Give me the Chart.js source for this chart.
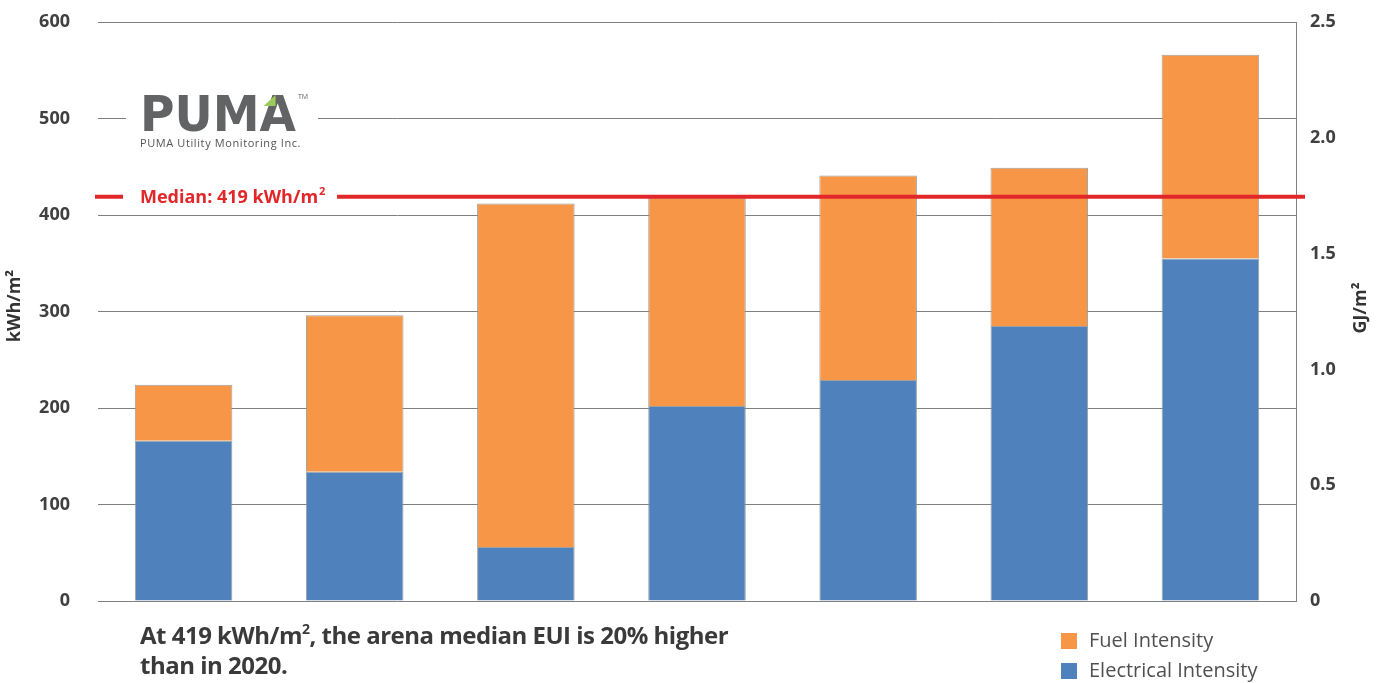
<!DOCTYPE html>
<html>
<head>
<meta charset="utf-8">
<script src="https://cdn.jsdelivr.net/npm/chart.js@4.4.1/dist/chart.umd.min.js"></script>
<style>
  html, body { margin: 0; padding: 0; background: #fff; }
  #wrap { position: relative; width: 1383px; height: 683px; overflow: hidden; }
  #eui { position: absolute; left: 0; top: 0; }
  .caption { position: absolute; left: 140px; top: 620px; font: bold 24px 'Open Sans', sans-serif; color: #3a3a3a; line-height: 30px; letter-spacing: -0.5px; }
  .caption sup { font-size: 14px; vertical-align: 10px; line-height: 0; }
  .legend { position: absolute; left: 1061px; top: 625px; font: 20px 'Open Sans', sans-serif; color: #505050; }
  .legend div { height: 30px; line-height: 30px; }
  .legend span { display: inline-block; width: 16px; height: 16px; margin-right: 12px; vertical-align: -2px; }
</style>
</head>
<body>
<div id="wrap">
  <canvas id="eui" width="1383" height="683"></canvas>
  <div class="caption">At 419 kWh/m<sup>2</sup>, the arena median EUI is 20% higher<br>than in 2020.</div>
  <div class="legend">
    <div><span style="background:#F79646"></span>Fuel Intensity</div>
    <div><span style="background:#4F81BD"></span>Electrical Intensity</div>
  </div>
</div>
<script>
const arenas = ['1', '2', '3', '4', '5', '6', '7'];
const electrical = [166, 134, 56, 202, 229, 285, 355];
const fuel = [58, 162, 356, 216, 212, 164, 211];
const medianValue = 419;
const leftTicks = [0, 100, 200, 300, 400, 500, 600];
const rightTicks = [0, 0.5, 1.0, 1.5, 2.0, 2.5];

const medianPlugin = {
  id: 'medianLine',
  afterDatasetsDraw(chart) {
    const { ctx, chartArea } = chart;
    const y = chart.scales.y.getPixelForValue(medianValue);
    ctx.save();
    ctx.strokeStyle = '#E2272A';
    ctx.lineWidth = 4;
    ctx.beginPath();
    ctx.moveTo(chartArea.left - 3, y);
    ctx.lineTo(chartArea.right + 9, y);
    ctx.stroke();
    ctx.font = 'bold 18px "Open Sans", sans-serif';
    const txt = 'Median: ' + medianValue + ' kWh/m';
    const w = ctx.measureText(txt).width;
    const tx = 140;
    ctx.fillStyle = '#fff';
    ctx.fillRect(tx - 17, y - 12, w + 19 + 17, 24);
    ctx.fillStyle = '#E2272A';
    ctx.textBaseline = 'middle';
    ctx.fillText(txt, tx, y + 1);
    ctx.font = 'bold 11px "Open Sans", sans-serif';
    ctx.fillText('2', tx + w + 1, y - 5);
    ctx.restore();
  }
};

const logoPlugin = {
  id: 'logo',
  afterDraw(chart) {
    const { ctx } = chart;
    ctx.save();
    ctx.fillStyle = '#fff';
    ctx.fillRect(126, 88, 192, 66);
    ctx.font = 'bold 50px "DejaVu Sans", sans-serif';
    const w = ctx.measureText('PUMA').width;
    const sx = 156 / w;
    ctx.translate(140, 131);
    ctx.scale(sx, 1);
    ctx.fillStyle = '#616365';
    ctx.textBaseline = 'alphabetic';
    ctx.fillText('PUMA', 0, 0);
    const aX = ctx.measureText('PUM').width;
    ctx.fillStyle = '#9DCB5A';
    ctx.beginPath();
    ctx.moveTo(aX + 4 / sx, -25);
    ctx.lineTo(aX + 16 / sx, -36);
    ctx.lineTo(aX + 16 / sx, -25);
    ctx.closePath();
    ctx.fill();
    ctx.restore();
    ctx.save();
    ctx.fillStyle = '#616365';
    ctx.font = '7px "Open Sans", sans-serif';
    ctx.fillText('TM', 298, 99);
    ctx.fillStyle = '#555';
    ctx.font = '11px "Open Sans", sans-serif';
    ctx.letterSpacing = '0.6px';
    ctx.fillText('PUMA Utility Monitoring Inc.', 140, 147);
    ctx.restore();

    // axis titles, both reading bottom to top
    ctx.save();
    ctx.font = 'bold 18px "Open Sans", sans-serif';
    ctx.fillStyle = '#333';
    ctx.textAlign = 'center';
    ctx.textBaseline = 'middle';
    [[15, 306, 'kWh/m²'], [1361, 308, 'GJ/m²']].forEach(([x, y, t]) => {
      ctx.save();
      ctx.translate(x, y);
      ctx.rotate(-Math.PI / 2);
      ctx.fillText(t, 0, 0);
      ctx.restore();
    });
    ctx.restore();
  }
};

new Chart(document.getElementById('eui'), {
  type: 'bar',
  data: {
    labels: arenas,
    datasets: [
      { label: 'Electrical Intensity', data: electrical, backgroundColor: '#4F81BD', borderColor: 'rgba(150,150,150,0.9)', borderWidth: 1, categoryPercentage: 1, barPercentage: 0.57 },
      { label: 'Fuel Intensity', data: fuel, backgroundColor: '#F79646', borderColor: 'rgba(150,150,150,0.9)', borderWidth: 1, categoryPercentage: 1, barPercentage: 0.57 }
    ]
  },
  options: {
    responsive: false,
    animation: false,
    layout: { padding: { top: 22, bottom: 82, left: 0, right: 0 } },
    plugins: { legend: { display: false }, tooltip: { enabled: false } },
    scales: {
      x: { stacked: true, display: false },
      y: {
        stacked: true, position: 'left', min: 0, max: 600,
        afterFit: s => { s.width = 98; s.paddingTop = 0; s.paddingBottom = 0; },
        afterBuildTicks: s => { s.ticks = leftTicks.map(v => ({ value: v })); },
        ticks: { padding: 28, color: '#404040', font: { family: 'Open Sans', size: 18, weight: 'bold' } },
        grid: { color: '#808080', lineWidth: 1, drawTicks: false, tickLength: 0 },
        border: { display: false }
      },
      y2: {
        position: 'right', min: 0, max: 2.5,
        afterFit: s => { s.width = 87; s.paddingTop = 0; s.paddingBottom = 0; },
        afterBuildTicks: s => { s.ticks = rightTicks.map(v => ({ value: v })); },
        ticks: { padding: 14, color: '#404040', font: { family: 'Open Sans', size: 18, weight: 'bold' }, callback: v => v === 0 ? '0' : v.toFixed(1) },
        grid: { display: false, drawTicks: false, tickLength: 0 },
        border: { display: true, color: '#808080', width: 1 }
      }
    }
  },
  plugins: [medianPlugin, logoPlugin]
});
</script>
</body>
</html>
